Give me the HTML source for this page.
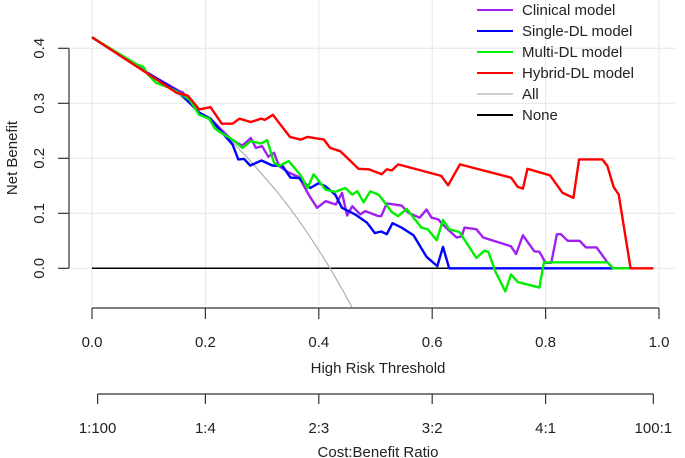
<!DOCTYPE html>
<html><head><meta charset="utf-8"><style>
html,body{margin:0;padding:0;background:#fff;}
svg{display:block;font-family:"Liberation Sans",Arial,sans-serif;}
</style></head><body>
<svg id="chart" width="685" height="458" viewBox="0 0 685 458">
<defs><clipPath id="plotclip"><rect x="62" y="0" width="620" height="307"/></clipPath></defs>
<g id="grid"></g>
<g id="series" clip-path="url(#plotclip)"></g>
<g id="axes"></g>
<g id="legend"></g>
</svg>
<script>
const xTicks=[0,0.2,0.4,0.6,0.8,1.0];
const xTickLabels=["0.0","0.2","0.4","0.6","0.8","1.0"];
const yTicks=[0,0.1,0.2,0.3,0.4];
const yTickLabels=["0.0","0.1","0.2","0.3","0.4"];
const cbTicks=[0.0099,0.2,0.4,0.6,0.8,0.99];
const cbLabels=["1:100","1:4","2:3","3:2","4:1","100:1"];
const seriesNames=["Clinical model","Single-DL model","Multi-DL model","Hybrid-DL model","All","None"];
const seriesColors=["#a020f0","#0000ff","#00ee00","#ff0000","#b0b0b0","#000000"];
const clinicalX=[0,0.09,0.154,0.16,0.189,0.209,0.228,0.246,0.265,0.28,0.289,0.30,0.311,0.321,0.33,0.347,0.365,0.382,0.397,0.412,0.43,0.441,0.45,0.459,0.473,0.482,0.505,0.51,0.52,0.546,0.558,0.578,0.59,0.599,0.611,0.617,0.643,0.652,0.657,0.678,0.69,0.739,0.748,0.76,0.78,0.789,0.80,0.81,0.82,0.827,0.839,0.86,0.871,0.89,0.909,0.919,0.95];
const clinicalY=[0.42,0.36,0.322,0.32,0.283,0.272,0.252,0.234,0.223,0.237,0.219,0.222,0.203,0.21,0.186,0.174,0.166,0.134,0.110,0.122,0.116,0.137,0.096,0.113,0.098,0.104,0.095,0.095,0.118,0.114,0.101,0.092,0.107,0.092,0.089,0.081,0.056,0.058,0.074,0.071,0.056,0.040,0.026,0.060,0.031,0.030,0.010,0.010,0.062,0.062,0.050,0.050,0.038,0.038,0.011,0,0];
const singleX=[0,0.09,0.154,0.189,0.209,0.23,0.248,0.258,0.268,0.279,0.299,0.318,0.336,0.35,0.365,0.385,0.40,0.412,0.429,0.441,0.464,0.485,0.499,0.510,0.520,0.530,0.546,0.567,0.590,0.609,0.619,0.630,0.918];
const singleY=[0.42,0.36,0.32,0.283,0.272,0.246,0.225,0.198,0.199,0.187,0.196,0.187,0.186,0.165,0.164,0.146,0.155,0.149,0.134,0.110,0.098,0.083,0.064,0.067,0.062,0.082,0.074,0.060,0.021,0.004,0.039,0,0];
const multiX=[0,0.08,0.09,0.099,0.113,0.137,0.154,0.172,0.189,0.207,0.216,0.228,0.248,0.265,0.28,0.298,0.309,0.321,0.33,0.347,0.368,0.38,0.391,0.412,0.429,0.447,0.459,0.468,0.479,0.491,0.505,0.508,0.529,0.540,0.555,0.581,0.592,0.608,0.619,0.63,0.648,0.678,0.692,0.699,0.712,0.729,0.739,0.751,0.789,0.797,0.909,0.919,0.95];
const multiY=[0.42,0.37,0.367,0.352,0.337,0.328,0.319,0.307,0.279,0.272,0.255,0.246,0.234,0.219,0.231,0.227,0.233,0.192,0.186,0.195,0.169,0.146,0.171,0.143,0.139,0.146,0.134,0.140,0.120,0.140,0.134,0.131,0.102,0.095,0.108,0.074,0.071,0.051,0.088,0.071,0.066,0.019,0.032,0.030,-0.007,-0.042,-0.011,-0.025,-0.035,0.011,0.011,0,0];
const hybridX=[0,0.092,0.149,0.169,0.189,0.209,0.229,0.248,0.26,0.28,0.298,0.305,0.319,0.349,0.368,0.380,0.409,0.42,0.438,0.456,0.47,0.488,0.511,0.520,0.529,0.540,0.616,0.628,0.649,0.739,0.751,0.760,0.768,0.808,0.830,0.849,0.859,0.9,0.909,0.920,0.929,0.95,0.99];
const hybridY=[0.42,0.358,0.319,0.314,0.289,0.293,0.263,0.263,0.272,0.266,0.272,0.270,0.279,0.239,0.234,0.239,0.234,0.219,0.213,0.195,0.181,0.180,0.171,0.180,0.178,0.189,0.168,0.151,0.189,0.165,0.148,0.145,0.181,0.169,0.137,0.128,0.198,0.198,0.186,0.148,0.134,0,0];
const allX=[0,0.05,0.1,0.15,0.2,0.25,0.275,0.3,0.325,0.35,0.375,0.4,0.42,0.44,0.456,0.47];
const allY=[0.42,0.389,0.356,0.318,0.275,0.227,0.200,0.171,0.141,0.108,0.072,0.033,0.0,-0.036,-0.066,-0.095];
const noneX=[0,0.99];
const noneY=[0,0];

const NS="http://www.w3.org/2000/svg";
const sx=v=>92+v*567;
const sy=v=>268.3-v*550;
const FS=15;
function mk(tag,attrs,parent){const e=document.createElementNS(NS,tag);for(const k in attrs)e.setAttribute(k,attrs[k]);parent.appendChild(e);return e;}
const grid=document.getElementById('grid'),axes=document.getElementById('axes'),ser=document.getElementById('series'),leg=document.getElementById('legend');

xTicks.forEach((t,i)=>{const l=mk('line',{x1:sx(t),x2:sx(t),y1:0,y2:306,stroke:'#e6e6e6','stroke-width':1},grid);

});
yTicks.forEach((t,i)=>{const l=mk('line',{x1:70,x2:675,y1:sy(t),y2:sy(t),stroke:'#e6e6e6','stroke-width':1},grid);

});

const sets=[[clinicalX,clinicalY],[singleX,singleY],[multiX,multiY],[hybridX,hybridY],[allX,allY],[noneX,noneY]];
const order=[5,4,0,1,2,3];
const names=['clinical-model-line','single-dl-model-line','multi-dl-model-line','hybrid-dl-model-line','all-line','none-line'];
order.forEach(i=>{const [xs,ys]=sets[i];
const d=xs.map((x,j)=>(j?'L':'M')+sx(x).toFixed(1)+' '+sy(ys[j]).toFixed(1)).join(' ');
const p=mk('path',{d:d,fill:'none',stroke:seriesColors[i],'stroke-width':(i>=4?(i==4?1.2:1.5):2.4),'stroke-linejoin':'round'},ser);

});

const ya=mk('line',{x1:69,x2:69,y1:sy(0.4),y2:sy(0),stroke:'#333','stroke-width':1.2},axes);


yTicks.forEach((t,i)=>{mk('line',{x1:58,x2:69,y1:sy(t),y2:sy(t),stroke:'#333','stroke-width':1.2},axes);
const tx=mk('text',{x:0,y:0,transform:`translate(44,${sy(t)}) rotate(-90)`,'text-anchor':'middle','font-size':FS,fill:'#222'},axes);
tx.textContent=yTickLabels[i];

});
const yt=mk('text',{transform:'translate(17,158) rotate(-90)','text-anchor':'middle','font-size':FS,fill:'#222'},axes);
yt.textContent='Net Benefit';



const xa=mk('line',{x1:sx(0),x2:sx(1),y1:308,y2:308,stroke:'#333','stroke-width':1.2},axes);


xTicks.forEach((t,i)=>{mk('line',{x1:sx(t),x2:sx(t),y1:308,y2:319,stroke:'#333','stroke-width':1.2},axes);
const tx=mk('text',{x:sx(t),y:347,'text-anchor':'middle','font-size':FS,fill:'#222'},axes);
tx.textContent=xTickLabels[i];

});
const xt=mk('text',{x:378,y:373,'text-anchor':'middle','font-size':FS,fill:'#222'},axes);
xt.textContent='High Risk Threshold';



const ca=mk('line',{x1:sx(cbTicks[0]),x2:sx(cbTicks[cbTicks.length-1]),y1:394,y2:394,stroke:'#333','stroke-width':1.2},axes);


cbTicks.forEach((t,i)=>{mk('line',{x1:sx(t),x2:sx(t),y1:394,y2:404,stroke:'#333','stroke-width':1.2},axes);
const tx=mk('text',{x:sx(t),y:433,'text-anchor':'middle','font-size':FS,fill:'#222'},axes);
tx.textContent=cbLabels[i];

});
const ct=mk('text',{x:378,y:457,'text-anchor':'middle','font-size':FS,fill:'#222'},axes);
ct.textContent='Cost:Benefit Ratio';



seriesNames.forEach((n,i)=>{const y=10+i*21;
const g=mk('g',{},leg);


mk('line',{x1:477,x2:513,y1:y,y2:y,stroke:seriesColors[i],'stroke-width':(i==4?1.2:2)},g);
const tx=mk('text',{x:522,y:y+5,'font-size':FS,fill:'#222'},g);
tx.textContent=n;});
</script>
</body></html>
